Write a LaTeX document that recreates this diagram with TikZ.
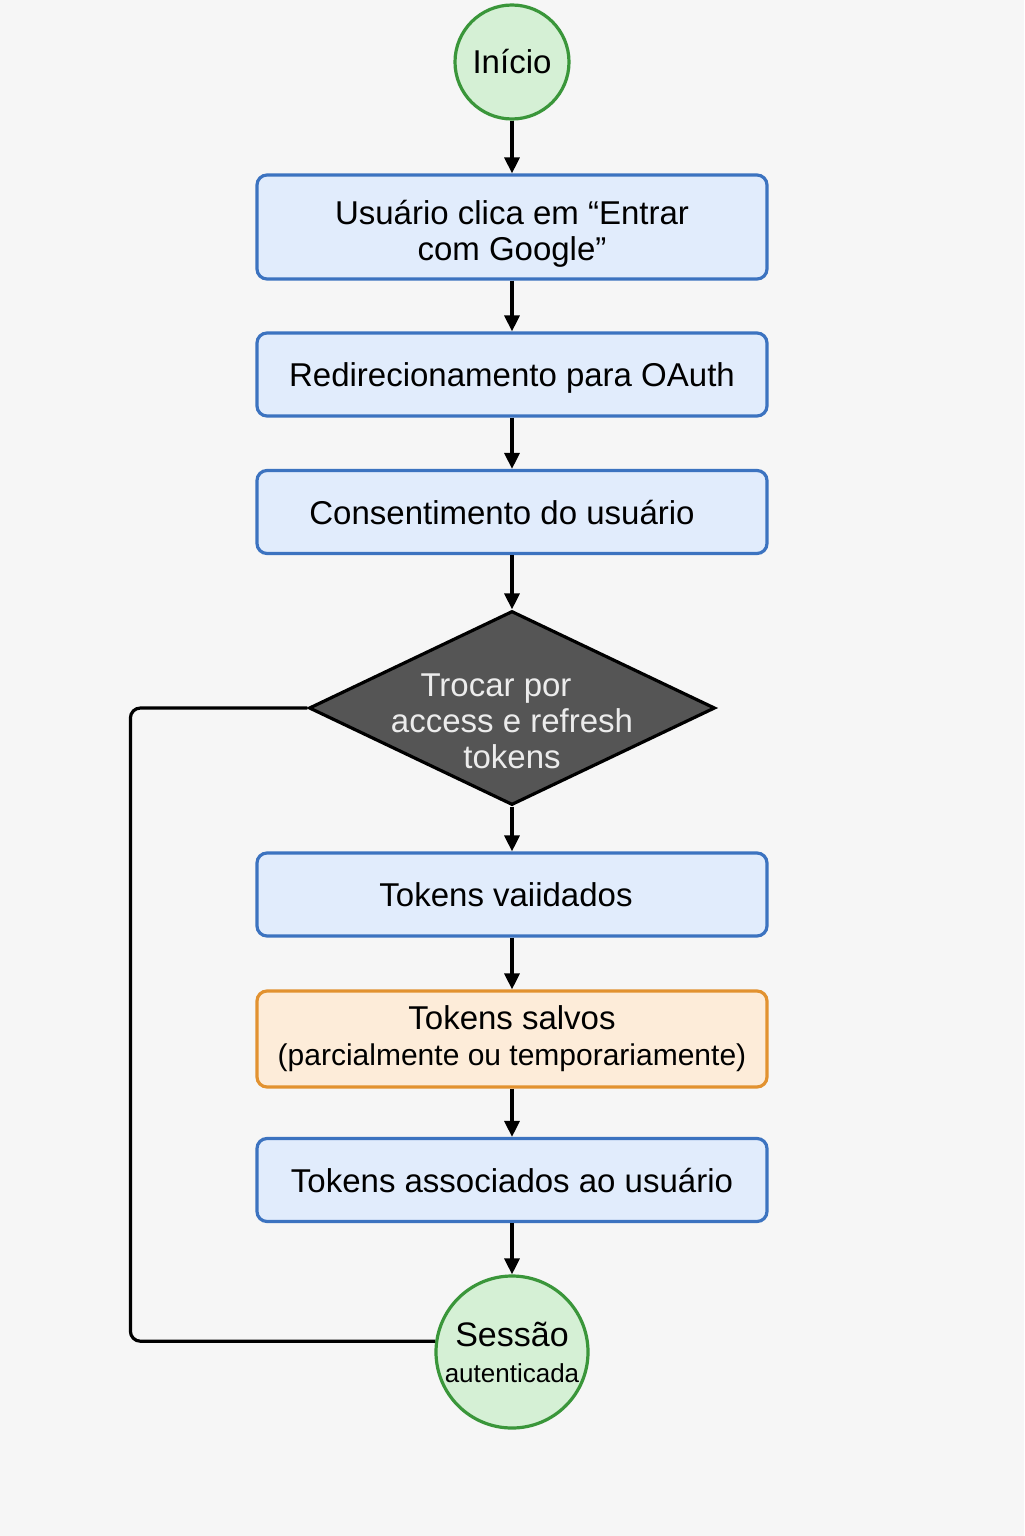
\documentclass[tikz,border=0pt]{standalone}
\usepackage{fontspec}
\setmainfont{Liberation Sans}
\usetikzlibrary{shapes.geometric,arrows.meta}
\definecolor{bg}{RGB}{246,246,246}
\definecolor{bfill}{RGB}{225,236,252}
\definecolor{bdraw}{RGB}{60,115,192}
\definecolor{ofill}{RGB}{253,236,217}
\definecolor{odraw}{RGB}{226,146,48}
\definecolor{gfill}{RGB}{213,240,213}
\definecolor{gdraw}{RGB}{58,150,58}
\definecolor{dfill}{RGB}{85,85,85}
\definecolor{dtext}{RGB}{236,236,236}
\begin{document}
\begin{tikzpicture}[x=0.5pt,y=-0.5pt,
  every node/.style={font=\fontsize{16.5}{18}\selectfont},
  proc/.style={draw=bdraw,fill=bfill,line width=1.6pt,rounded corners=5pt,
    minimum width=255pt,minimum height=41.5pt,align=center,inner sep=0pt},
  procw/.style={proc,draw=odraw,fill=ofill},
  term/.style={circle,draw=gdraw,fill=gfill,line width=1.6pt,align=center,inner sep=0pt},
  dec/.style={diamond,draw=black,fill=dfill,line width=1.6pt,minimum width=203pt,
    minimum height=97pt,inner sep=0pt,aspect=2.09},
  arr/.style={-{Triangle[length=8pt,width=7.5pt]},line width=1.6pt,black},
  loopline/.style={line width=1.6pt,black,rounded corners=5pt}]
\path[fill=bg] (0,0) rectangle (1024,1536);
\useasboundingbox (0,0) rectangle (1024,1536);

\node[term,minimum size=57pt] (start) at (512,62) {Início};
\node[proc,minimum height=52pt] (b1) at (512,227) {\rule{0pt}{19pt}Usuário clica em “Entrar\\com Google”};
\node[proc,text depth=0pt] (b2) at (512,374.5) {Redirecionamento para OAuth};
\node[proc,text depth=0pt] (b3) at (512,512) {Consentimento do usuário\hspace*{10pt}};
\node[dec] (dia) at (512,708) {};
\node[text=dtext,align=center] (diatext) at (512,721) {Trocar por\hspace*{16pt}\\access e refresh\\tokens};
\node[proc,text depth=0pt] (b4) at (512,894.5) {Tokens vaiidados\hspace*{6pt}};
\node[procw,minimum height=48pt] (b5) at (512,1039) {Tokens salvos\\{\fontsize{15}{18}\selectfont(parcialmente ou temporariamente)}};
\node[proc,text depth=0pt] (b6) at (512,1180) {Tokens associados ao usuário};
\node[term,minimum size=76pt] (end) at (512,1352) {{\fontsize{17}{18}\selectfont Sessão}\\[0pt]{\fontsize{13}{14}\selectfont autenticada}};

\draw[arr] (start) -- (b1);
\draw[arr] (b1) -- (b2);
\draw[arr] (b2) -- (b3);
\draw[arr] (b3) -- (dia);
\draw[arr] (dia) -- (b4);
\draw[arr] (b4) -- (b5);
\draw[arr] (b5) -- (b6);
\draw[arr] (b6) -- (end);
\draw[loopline] (dia.west) -- ++(-177,0) |- (end.172);
\end{tikzpicture}
\end{document}
